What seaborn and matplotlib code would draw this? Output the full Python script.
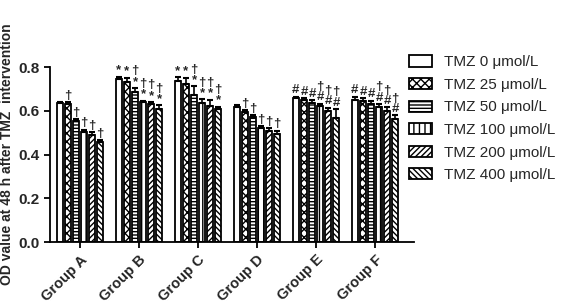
import pandas as pd
import seaborn as sns
import matplotlib.pyplot as plt
from matplotlib.patches import Patch

groups = ['Group A', 'Group B', 'Group C', 'Group D', 'Group E', 'Group F']
doses = ['TMZ 0 μmol/L', 'TMZ 25 μmol/L', 'TMZ 50 μmol/L',
         'TMZ 100 μmol/L', 'TMZ 200 μmol/L', 'TMZ 400 μmol/L']

# mean OD per group, one value per dose
od_a = [0.635, 0.633, 0.553, 0.503, 0.490, 0.457]
od_b = [0.747, 0.730, 0.686, 0.640, 0.630, 0.610]
od_c = [0.738, 0.722, 0.672, 0.638, 0.622, 0.607]
od_d = [0.618, 0.596, 0.570, 0.522, 0.510, 0.494]
od_e = [0.657, 0.649, 0.637, 0.623, 0.600, 0.568]
od_f = [0.652, 0.645, 0.631, 0.616, 0.598, 0.565]

# error (SD)
sd_a = [0.005, 0.006, 0.010, 0.010, 0.012, 0.008]
sd_b = [0.008, 0.020, 0.018, 0.006, 0.010, 0.015]
sd_c = [0.015, 0.030, 0.040, 0.015, 0.030, 0.012]
sd_d = [0.008, 0.008, 0.010, 0.008, 0.010, 0.015]
sd_e = [0.008, 0.010, 0.012, 0.010, 0.015, 0.040]
sd_f = [0.012, 0.012, 0.015, 0.015, 0.018, 0.015]

# significance marks
mark_a = ['', '†', '†', '†', '†', '†']
mark_b = ['*', '*', '†\n*', '†\n*', '†\n*', '†\n*']
mark_c = ['*', '*', '†\n*', '†\n*', '†\n*', '†\n*']
mark_d = ['', '†', '†', '†', '†', '†']
mark_e = ['#', '#', '#', '†\n#', '†\n#', '†\n#']
mark_f = ['#', '#', '#', '†\n#', '†\n#', '†\n#']

hatches = ['', 'xxxx', '-----', '|||', '//////', '\\\\\\\\\\\\']


def main():
    od = [od_a, od_b, od_c, od_d, od_e, od_f]
    sd = [sd_a, sd_b, sd_c, sd_d, sd_e, sd_f]
    marks = [mark_a, mark_b, mark_c, mark_d, mark_e, mark_f]

    rows = []
    for g, vals in zip(groups, od):
        for d, v in zip(doses, vals):
            rows.append({'group': g, 'dose': d, 'od': v})
    df = pd.DataFrame(rows)

    sns.set_style('ticks')
    plt.rcParams['font.family'] = ['Liberation Sans', 'DejaVu Sans']
    plt.rcParams['hatch.linewidth'] = 1.0

    fig = plt.figure(figsize=(5.61, 3.08), dpi=100)
    ax = fig.add_axes([0.089, 0.214, 0.649, 0.568])

    sns.barplot(data=df, x='group', y='od', hue='dose', order=groups,
                hue_order=doses, errorbar=None, palette=['white'] * 6,
                edgecolor='black', linewidth=1.3, width=0.82, gap=0.28,
                legend=False, ax=ax)

    bar_conts = list(ax.containers)
    for i, cont in enumerate(bar_conts):
        for j, bar in enumerate(cont):
            bar.set_hatch(hatches[i])
            x = bar.get_x() + bar.get_width() / 2
            h = bar.get_height()
            e = sd[j][i]
            ax.errorbar(x, h, yerr=[[0], [e]], color='black', capsize=2,
                        elinewidth=1.2, capthick=1.5)
            if marks[j][i]:
                ax.text(x, h + e + 0.002, marks[j][i], ha='center',
                        va='bottom', fontsize=9.5, fontweight='bold',
                        linespacing=0.8)

    ax.set_ylim(0, 0.8)
    ax.set_xlim(-0.51, 5.66)
    ax.set_yticks([0.0, 0.2, 0.4, 0.6, 0.8])
    ax.set_yticklabels(['0.0', '0.2', '0.4', '0.6', '0.8'],
                       fontsize=11, fontweight='bold')
    ax.set_xticks(range(len(groups)))
    ax.set_xticklabels(groups, rotation=45, ha='right',
                       rotation_mode='anchor', fontsize=10.5, fontweight='bold')
    ax.set_xlabel('')
    ax.set_ylabel('OD value at 48 h after TMZ  intervention',
                  fontsize=10, fontweight='bold', labelpad=3)
    ax.tick_params(axis='both', width=1.3, length=4, color='black')
    for s in ['left', 'bottom']:
        ax.spines[s].set_linewidth(1.3)
        ax.spines[s].set_color('black')
    sns.despine(ax=ax)

    handles = [Patch(facecolor='white', edgecolor='black', hatch=h,
                     linewidth=1.3) for h in hatches]
    fig.legend(handles, doses, loc='upper left',
               bbox_to_anchor=(0.704, 0.865), frameon=False, fontsize=11,
               handlelength=1.5, handleheight=0.75, labelspacing=0.56,
               handletextpad=0.8)

    plt.savefig('out.png', dpi=100)


if __name__ == '__main__':
    main()
